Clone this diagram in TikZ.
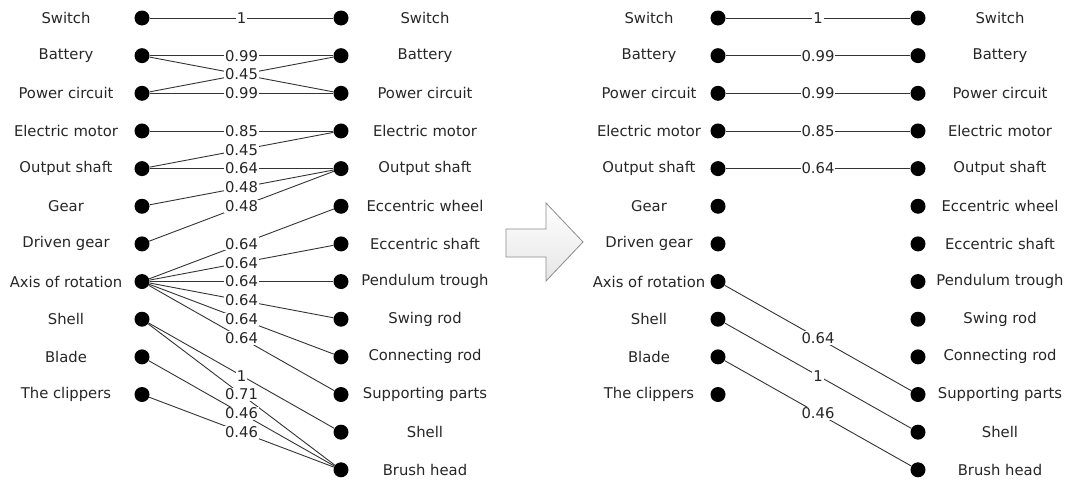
\documentclass[tikz,border=0pt]{standalone}
\usepackage{fontspec}
\setmainfont{DejaVu Sans}
\begin{document}
\begin{tikzpicture}[x=1pt,y=-1pt,
  dot/.style={circle,fill=black,inner sep=0pt,minimum size=15pt},
  lab/.style={text=black!85,inner sep=0pt,font=\fontsize{14.8}{17}\selectfont},
  wt/.style={fill=white,inner sep=1pt,text=black!85,font=\fontsize{14.8}{17}\selectfont},
  conn/.style={draw=black!80,line width=0.9pt}]
\useasboundingbox (0,0) rectangle (1072,482);
% ---------- left panel ----------
\foreach \t [count=\i] in {Switch,Battery,Power circuit,Electric motor,Output shaft,Gear,Driven gear,Axis of rotation,Shell,Blade,The clippers}{
  \node[dot] (a\i) at (142,{18+37.65*(\i-1)}) {};
  \node[lab] (la\i) at (66,{18+37.65*(\i-1)}) {\t};
}
\foreach \t [count=\i] in {Switch,Battery,Power circuit,Electric motor,Output shaft,Eccentric wheel,Eccentric shaft,Pendulum trough,Swing rod,Connecting rod,Supporting parts,Shell,Brush head}{
  \node[dot] (b\i) at (341,{18+37.65*(\i-1)}) {};
  \node[lab] (lb\i) at (425,{18+37.65*(\i-1)}) {\t};
}
% ---------- right panel ----------
\foreach \t [count=\i] in {Switch,Battery,Power circuit,Electric motor,Output shaft,Gear,Driven gear,Axis of rotation,Shell,Blade,The clippers}{
  \node[dot] (c\i) at (718,{18+37.65*(\i-1)}) {};
  \node[lab] (lc\i) at (649,{18+37.65*(\i-1)}) {\t};
}
\foreach \t [count=\i] in {Switch,Battery,Power circuit,Electric motor,Output shaft,Eccentric wheel,Eccentric shaft,Pendulum trough,Swing rod,Connecting rod,Supporting parts,Shell,Brush head}{
  \node[dot] (d\i) at (918,{18+37.65*(\i-1)}) {};
  \node[lab] (ld\i) at (1000,{18+37.65*(\i-1)}) {\t};
}
% ---------- connectors ----------
\def\edgelist{a1/b1/1, a2/b2/0.99, a2/b3/0.45, a3/b2/0.45, a3/b3/0.99, a4/b4/0.85,
  a5/b4/0.45, a5/b5/0.64, a6/b5/0.48, a7/b5/0.48,
  a8/b6/0.64, a8/b7/0.64, a8/b8/0.64, a8/b9/0.64, a8/b10/0.64, a8/b11/0.64,
  a9/b12/1, a9/b13/0.71, a10/b13/0.46, a11/b13/0.46,
  c1/d1/1, c2/d2/0.99, c3/d3/0.99, c4/d4/0.85, c5/d5/0.64,
  c8/d11/0.64, c9/d12/1, c10/d13/0.46}
\foreach \u/\v/\w in \edgelist { \draw[conn] (\u) -- (\v); }
\foreach \u/\v/\w in \edgelist { \path (\u) -- (\v) node[midway,wt] {\w}; }
% ---------- block arrow ----------
\draw[draw=black!45,line width=0.8pt,top color=white,bottom color=black!10]
  (506,229) -- (546,229) -- (546,203) -- (583,242) -- (546,281) -- (546,257) -- (506,257) -- cycle;
\end{tikzpicture}
\end{document}
